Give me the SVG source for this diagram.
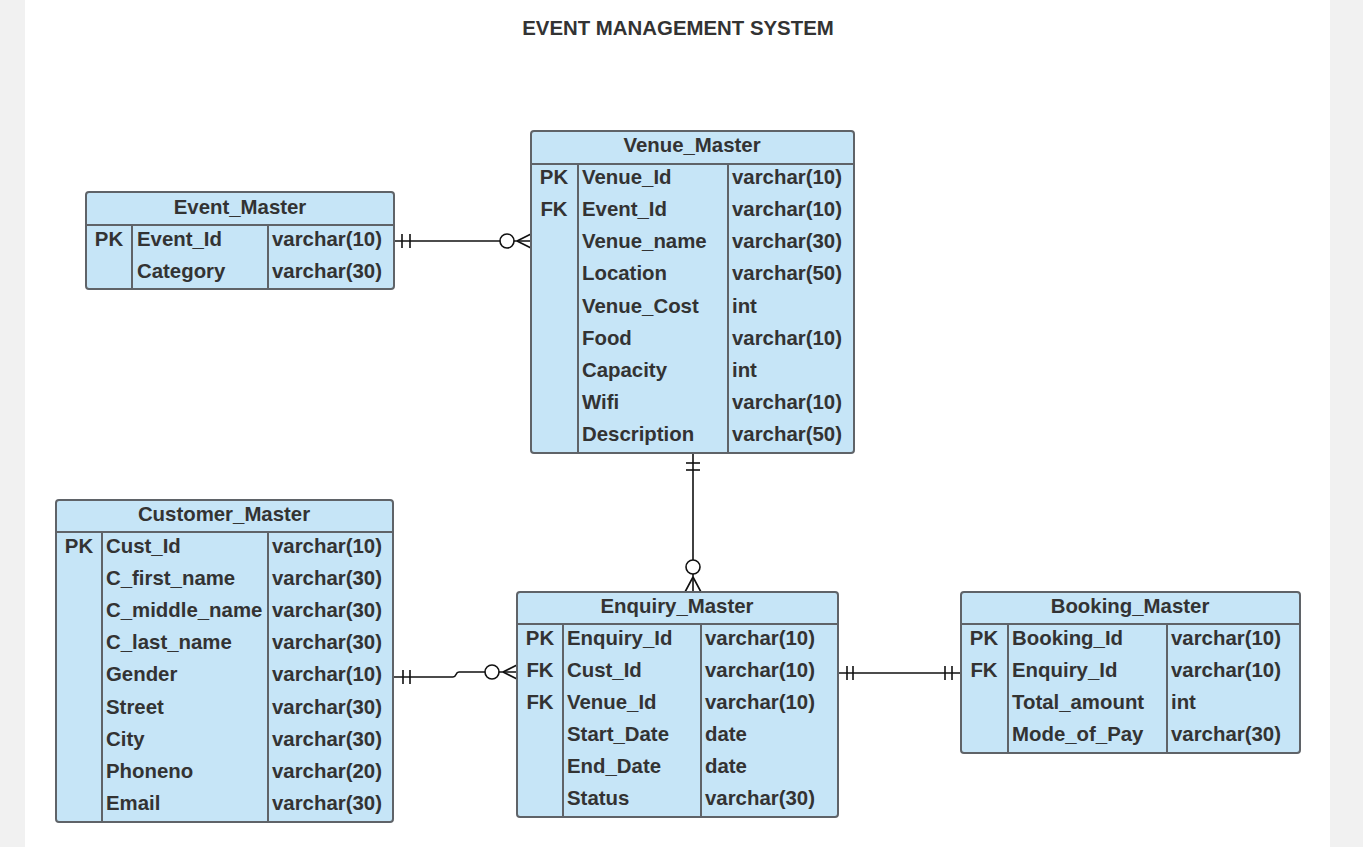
<svg xmlns="http://www.w3.org/2000/svg" width="1363" height="847" viewBox="0 0 1363 847">
<style>
.box{fill:#c6e5f7;stroke:#5f6368;stroke-width:2}
.ln{stroke:#5f6368;stroke-width:2;fill:none}
text{font-family:"Liberation Sans",Arial,sans-serif;font-weight:bold;font-size:20.4px;fill:#333333}
.c{text-anchor:middle}
.cn{stroke:#111111;stroke-width:1.6;fill:none}
.circ{stroke:#111111;stroke-width:1.6;fill:#ffffff}
</style>
<rect x="0" y="0" width="1363" height="847" fill="#f1f1f1"/>
<rect x="25" y="0" width="1305" height="847" fill="#ffffff"/>
<text x="678" y="35" class="c">EVENT MANAGEMENT SYSTEM</text>

<g id="connectors">
  <!-- Event - Venue -->
  <line class="cn" x1="394" y1="241" x2="531" y2="241"/>
  <line class="cn" x1="402" y1="234" x2="402" y2="248"/>
  <line class="cn" x1="410" y1="234" x2="410" y2="248"/>
  <path class="cn" d="M517 241 L531 234 M517 241 L531 248"/>
  <circle class="circ" cx="507" cy="241" r="7"/>
  <!-- Venue - Enquiry -->
  <line class="cn" x1="693" y1="453" x2="693" y2="592"/>
  <line class="cn" x1="686" y1="463" x2="700" y2="463"/>
  <line class="cn" x1="686" y1="470" x2="700" y2="470"/>
  <path class="cn" d="M693 577 L685 592 M693 577 L701 592"/>
  <circle class="circ" cx="693" cy="567" r="7"/>
  <!-- Customer - Enquiry -->
  <path class="cn" d="M394 677 L453 677 Q455 677 456 674.5 Q457 672 459 672 L517 672"/>
  <line class="cn" x1="403" y1="670" x2="403" y2="684"/>
  <line class="cn" x1="410" y1="670" x2="410" y2="684"/>
  <path class="cn" d="M503 672 L517 665 M503 672 L517 679"/>
  <circle class="circ" cx="492" cy="672" r="7"/>
  <!-- Enquiry - Booking -->
  <line class="cn" x1="838" y1="673" x2="961" y2="673"/>
  <line class="cn" x1="847" y1="666" x2="847" y2="680"/>
  <line class="cn" x1="853" y1="666" x2="853" y2="680"/>
  <line class="cn" x1="945" y1="666" x2="945" y2="680"/>
  <line class="cn" x1="952" y1="666" x2="952" y2="680"/>
</g>

<g id="event_master">
  <rect class="box" x="86" y="192" width="308" height="97" rx="3"/>
  <line class="ln" x1="86" y1="225" x2="394" y2="225"/>
  <line class="ln" x1="132" y1="225" x2="132" y2="289"/>
  <line class="ln" x1="268" y1="225" x2="268" y2="289"/>
  <text x="240" y="214" class="c">Event_Master</text>
  <text x="109" y="246" class="c">PK</text>
  <text x="137" y="246">Event_Id</text>
  <text x="272" y="246">varchar(10)</text>
  <text x="137" y="278">Category</text>
  <text x="272" y="278">varchar(30)</text>
</g>

<g id="venue_master">
  <rect class="box" x="531" y="131" width="323" height="322" rx="3"/>
  <line class="ln" x1="531" y1="164" x2="854" y2="164"/>
  <line class="ln" x1="578" y1="164" x2="578" y2="453"/>
  <line class="ln" x1="728" y1="164" x2="728" y2="453"/>
  <text x="692" y="152" class="c">Venue_Master</text>
  <text x="554" y="184" class="c">PK</text>
  <text x="554" y="216" class="c">FK</text>
  <text x="582" y="184">Venue_Id</text><text x="732" y="184">varchar(10)</text>
  <text x="582" y="216">Event_Id</text><text x="732" y="216">varchar(10)</text>
  <text x="582" y="248">Venue_name</text><text x="732" y="248">varchar(30)</text>
  <text x="582" y="280">Location</text><text x="732" y="280">varchar(50)</text>
  <text x="582" y="313">Venue_Cost</text><text x="732" y="313">int</text>
  <text x="582" y="345">Food</text><text x="732" y="345">varchar(10)</text>
  <text x="582" y="377">Capacity</text><text x="732" y="377">int</text>
  <text x="582" y="409">Wifi</text><text x="732" y="409">varchar(10)</text>
  <text x="582" y="441">Description</text><text x="732" y="441">varchar(50)</text>
</g>

<g id="customer_master">
  <rect class="box" x="56" y="500" width="337" height="322" rx="3"/>
  <line class="ln" x1="56" y1="532" x2="393" y2="532"/>
  <line class="ln" x1="102" y1="532" x2="102" y2="822"/>
  <line class="ln" x1="268" y1="532" x2="268" y2="822"/>
  <text x="224" y="521" class="c">Customer_Master</text>
  <text x="79" y="553" class="c">PK</text>
  <text x="106" y="553">Cust_Id</text><text x="272" y="553">varchar(10)</text>
  <text x="106" y="585">C_first_name</text><text x="272" y="585">varchar(30)</text>
  <text x="106" y="617">C_middle_name</text><text x="272" y="617">varchar(30)</text>
  <text x="106" y="649">C_last_name</text><text x="272" y="649">varchar(30)</text>
  <text x="106" y="681">Gender</text><text x="272" y="681">varchar(10)</text>
  <text x="106" y="714">Street</text><text x="272" y="714">varchar(30)</text>
  <text x="106" y="746">City</text><text x="272" y="746">varchar(30)</text>
  <text x="106" y="778">Phoneno</text><text x="272" y="778">varchar(20)</text>
  <text x="106" y="810">Email</text><text x="272" y="810">varchar(30)</text>
</g>

<g id="enquiry_master">
  <rect class="box" x="517" y="592" width="321" height="225" rx="3"/>
  <line class="ln" x1="517" y1="624" x2="838" y2="624"/>
  <line class="ln" x1="563" y1="624" x2="563" y2="817"/>
  <line class="ln" x1="701" y1="624" x2="701" y2="817"/>
  <text x="677" y="613" class="c">Enquiry_Master</text>
  <text x="540" y="645" class="c">PK</text>
  <text x="540" y="677" class="c">FK</text>
  <text x="540" y="709" class="c">FK</text>
  <text x="567" y="645">Enquiry_Id</text><text x="705" y="645">varchar(10)</text>
  <text x="567" y="677">Cust_Id</text><text x="705" y="677">varchar(10)</text>
  <text x="567" y="709">Venue_Id</text><text x="705" y="709">varchar(10)</text>
  <text x="567" y="741">Start_Date</text><text x="705" y="741">date</text>
  <text x="567" y="773">End_Date</text><text x="705" y="773">date</text>
  <text x="567" y="805">Status</text><text x="705" y="805">varchar(30)</text>
</g>

<g id="booking_master">
  <rect class="box" x="961" y="592" width="339" height="161" rx="3"/>
  <line class="ln" x1="961" y1="624" x2="1300" y2="624"/>
  <line class="ln" x1="1008" y1="624" x2="1008" y2="753"/>
  <line class="ln" x1="1167" y1="624" x2="1167" y2="753"/>
  <text x="1130" y="613" class="c">Booking_Master</text>
  <text x="984" y="645" class="c">PK</text>
  <text x="984" y="677" class="c">FK</text>
  <text x="1012" y="645">Booking_Id</text><text x="1171" y="645">varchar(10)</text>
  <text x="1012" y="677">Enquiry_Id</text><text x="1171" y="677">varchar(10)</text>
  <text x="1012" y="709">Total_amount</text><text x="1171" y="709">int</text>
  <text x="1012" y="741">Mode_of_Pay</text><text x="1171" y="741">varchar(30)</text>
</g>
</svg>
